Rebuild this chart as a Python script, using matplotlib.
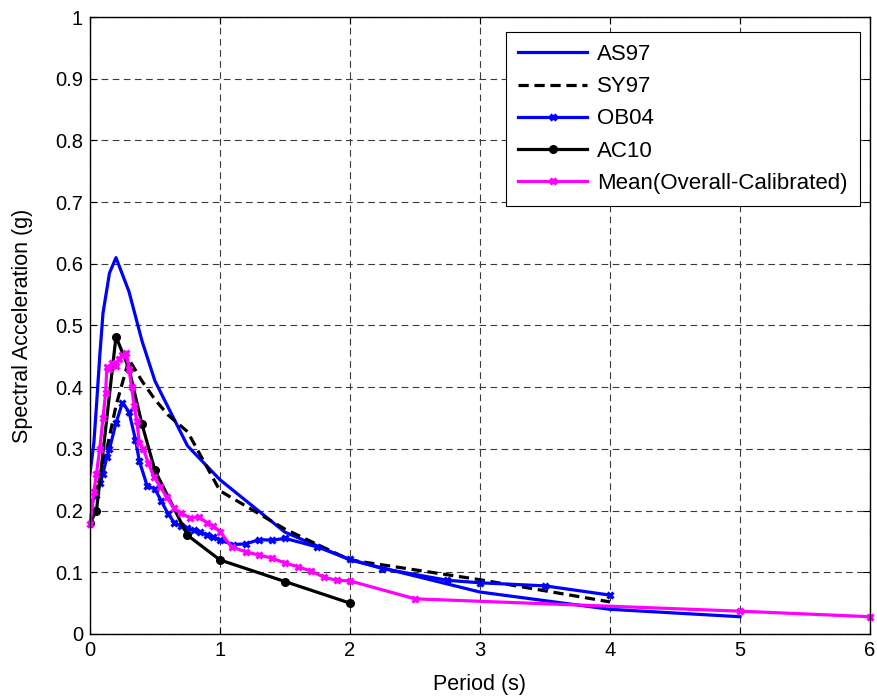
import matplotlib
matplotlib.use("Agg")
import matplotlib.pyplot as plt

plt.rcParams['font.family'] = ['Liberation Sans', 'DejaVu Sans']

# AS97
as97_T = [0, 0.03, 0.05, 0.075, 0.1, 0.15, 0.2, 0.3, 0.4, 0.5, 0.75, 1.0, 1.5, 2.0, 3.0, 4.0, 5.0]
as97_Sa = [0.26, 0.31, 0.37, 0.45, 0.52, 0.585, 0.61, 0.555, 0.475, 0.41, 0.305, 0.25, 0.165, 0.12, 0.068, 0.04, 0.028]

# SY97
sy97_T = [0, 0.1, 0.2, 0.3, 0.4, 0.5, 0.6, 0.75, 1.0, 1.5, 2.0, 3.0, 4.0]
sy97_Sa = [0.20, 0.27, 0.37, 0.445, 0.41, 0.38, 0.355, 0.328, 0.232, 0.17, 0.12, 0.088, 0.052]

# OB04
ob04_T = [0, 0.05, 0.08, 0.1, 0.13, 0.15, 0.2, 0.25, 0.3, 0.35, 0.38, 0.44, 0.5, 0.55, 0.6, 0.65,
          0.7, 0.75, 0.8, 0.85, 0.9, 0.95, 1.0, 1.1, 1.2, 1.3, 1.4, 1.5, 1.75, 2.0, 2.25, 2.75,
          3.0, 3.5, 4.0]
ob04_Sa = [0.21, 0.225, 0.245, 0.26, 0.287, 0.30, 0.342, 0.375, 0.36, 0.315, 0.28, 0.24, 0.235,
           0.215, 0.195, 0.18, 0.175, 0.172, 0.168, 0.165, 0.16, 0.157, 0.152, 0.145, 0.146,
           0.153, 0.152, 0.155, 0.141, 0.121, 0.106, 0.087, 0.083, 0.078, 0.063]

# AC10
ac10_T = [0, 0.05, 0.2, 0.3, 0.4, 0.5, 0.75, 1.0, 1.5, 2.0]
ac10_Sa = [0.18, 0.20, 0.482, 0.43, 0.34, 0.265, 0.16, 0.12, 0.085, 0.05]

# Mean (Overall-Calibrated)
mean_T = [0, 0.03, 0.05, 0.075, 0.1, 0.12, 0.13, 0.15, 0.17, 0.2, 0.22, 0.25, 0.28, 0.3, 0.32,
          0.34, 0.36, 0.38, 0.41, 0.45, 0.49, 0.54, 0.59, 0.645, 0.7, 0.77, 0.84, 0.9, 0.95,
          1.0, 1.09, 1.2, 1.3, 1.4, 1.5, 1.6, 1.7, 1.8, 1.9, 2.0, 2.5, 5.0, 6.0]
mean_Sa = [0.178, 0.23, 0.26, 0.30, 0.35, 0.39, 0.433, 0.43, 0.44, 0.435, 0.445, 0.452, 0.455,
           0.43, 0.40, 0.37, 0.345, 0.31, 0.30, 0.277, 0.255, 0.239, 0.222, 0.204, 0.196,
           0.188, 0.19, 0.18, 0.175, 0.166, 0.141, 0.133, 0.128, 0.123, 0.115, 0.109, 0.102,
           0.092, 0.087, 0.086, 0.057, 0.037, 0.028]

fig = plt.figure(figsize=(8.77, 6.97), dpi=100)
ax = fig.add_axes([0.1026, 0.0904, 0.8894, 0.8852])

lw = 2.3
ax.plot(as97_T, as97_Sa, color='#0000ff', lw=lw, label='AS97')
ax.plot(sy97_T, sy97_Sa, color='black', lw=lw, ls=(0, (3.2, 1.8)), label='SY97')
ax.plot(ob04_T, ob04_Sa, color='#0000ff', lw=lw, marker='x', ms=5, mew=2.3, label='OB04')
ax.plot(ac10_T, ac10_Sa, color='black', lw=lw, marker='o', ms=5.5, label='AC10')
ax.plot(mean_T, mean_Sa, color='#ff00ff', lw=lw, marker='x', ms=5, mew=2.3,
        label='Mean(Overall-Calibrated)', clip_on=False)

ax.set_xlim(0, 6)
ax.set_ylim(0, 1)
ax.set_xticks(range(0, 7))
ax.set_yticks([i / 10 for i in range(0, 11)])
ax.set_yticklabels(['0', '0.1', '0.2', '0.3', '0.4', '0.5', '0.6', '0.7', '0.8', '0.9', '1'])
ax.grid(True, color='#3a3a3a', ls=(0, (6, 4)), lw=0.8)
ax.tick_params(direction='in', top=True, right=True, labelsize=14.5, length=5, pad=5)
for s in ax.spines.values():
    s.set_linewidth(1.0)
ax.set_xlabel('Period (s)', fontsize=15.5, labelpad=10)
ax.set_ylabel('Spectral Acceleration (g)', fontsize=15.5, labelpad=16)

leg = ax.legend(loc='upper right', bbox_to_anchor=(0.987, 0.9757), borderaxespad=0,
                fontsize=16, fancybox=False, edgecolor='black', framealpha=1,
                handlelength=3.1, labelspacing=0.5, borderpad=0.55, handletextpad=0.45)
leg.get_frame().set_linewidth(0.8)

fig.savefig('out.png', dpi=100)
